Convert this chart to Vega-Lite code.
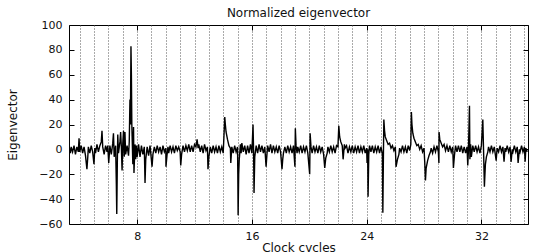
{
 "$schema": "https://vega.github.io/schema/vega-lite/v6.json",
 "width": 459,
 "height": 199,
 "autosize": {"type": "none"},
 "padding": {"left": 69, "top": 25, "right": 10, "bottom": 28},
 "background": "white",
 "title": {"text": "Normalized eigenvector", "font": "DejaVu Sans", "fontSize": 12, "fontWeight": "normal", "color": "#111", "offset": -1},
 "config": {
  "view": {"stroke": "#000", "strokeWidth": 1},
  "axis": {"labelFont": "DejaVu Sans", "labelFontSize": 11, "labelColor": "#111", "titleFont": "DejaVu Sans", "titleFontSize": 12, "titleFontWeight": "normal", "titleColor": "#111", "tickColor": "#000", "domain": false, "grid": false}
 },
 "data": {"values": [
  {"x":3.3,"y":1},{"x":3.35,"y":-3},{"x":3.4,"y":2},{"x":3.5,"y":-2},{"x":3.6,"y":3},{"x":3.7,"y":-4},{"x":3.8,"y":2},{"x":3.9,"y":-2},{"x":3.95,"y":9},{"x":4.0,"y":-2},
  {"x":4.1,"y":3},{"x":4.2,"y":-3},{"x":4.3,"y":2},{"x":4.4,"y":-5},{"x":4.5,"y":-16},{"x":4.56,"y":-6},{"x":4.6,"y":2},{"x":4.7,"y":-3},{"x":4.8,"y":3},{"x":4.9,"y":-2},{"x":4.99,"y":-12},
  {"x":5.05,"y":1},{"x":5.1,"y":-3},{"x":5.2,"y":4},{"x":5.3,"y":-2},{"x":5.4,"y":3},{"x":5.5,"y":6},{"x":5.55,"y":15},{"x":5.6,"y":2},{"x":5.7,"y":-4},{"x":5.8,"y":3},{"x":5.9,"y":-2},{"x":5.95,"y":3},
  {"x":6.02,"y":-11},{"x":6.1,"y":3},{"x":6.2,"y":-4},{"x":6.3,"y":5},{"x":6.35,"y":13},{"x":6.4,"y":-6},{"x":6.5,"y":3},{"x":6.55,"y":-28},{"x":6.58,"y":-52},{"x":6.62,"y":-10},{"x":6.65,"y":12},{"x":6.7,"y":-3},{"x":6.8,"y":6},{"x":6.85,"y":14},{"x":6.9,"y":2},{"x":6.95,"y":-17},
  {"x":7.0,"y":5},{"x":7.05,"y":15},{"x":7.1,"y":-6},{"x":7.15,"y":14},{"x":7.2,"y":-4},{"x":7.3,"y":3},{"x":7.4,"y":-5},{"x":7.45,"y":6},{"x":7.5,"y":40},{"x":7.53,"y":20},{"x":7.57,"y":83},{"x":7.6,"y":60},{"x":7.63,"y":20},{"x":7.7,"y":-12},{"x":7.75,"y":18},{"x":7.78,"y":-19},{"x":7.85,"y":4},{"x":7.9,"y":-8},{"x":7.95,"y":3},
  {"x":8.0,"y":-6},{"x":8.1,"y":4},{"x":8.2,"y":-6},{"x":8.3,"y":3},{"x":8.4,"y":-4},{"x":8.5,"y":2},{"x":8.55,"y":-27},{"x":8.6,"y":-8},{"x":8.7,"y":2},{"x":8.8,"y":-5},{"x":8.9,"y":3},{"x":8.95,"y":-3},
  {"x":9.04,"y":-14},{"x":9.1,"y":-4},{"x":9.2,"y":2},{"x":9.3,"y":-3},{"x":9.4,"y":3},{"x":9.5,"y":-2},{"x":9.6,"y":2},{"x":9.7,"y":-4},{"x":9.8,"y":3},{"x":9.9,"y":-2},{"x":10.0,"y":1},
  {"x":10.01,"y":-14},{"x":10.08,"y":-5},{"x":10.15,"y":2},{"x":10.2,"y":-3},{"x":10.3,"y":3},{"x":10.4,"y":-2},{"x":10.5,"y":2},{"x":10.6,"y":-3},{"x":10.7,"y":3},{"x":10.8,"y":-1},{"x":10.9,"y":2},{"x":11.0,"y":-2},
  {"x":11.04,"y":-13},{"x":11.1,"y":-4},{"x":11.2,"y":3},{"x":11.3,"y":-2},{"x":11.4,"y":3},{"x":11.5,"y":-1},{"x":11.6,"y":4},{"x":11.7,"y":-2},{"x":11.8,"y":3},{"x":11.9,"y":-2},{"x":12.0,"y":4},
  {"x":12.1,"y":2},{"x":12.18,"y":8},{"x":12.25,"y":1},{"x":12.3,"y":4},{"x":12.4,"y":-2},{"x":12.5,"y":3},{"x":12.6,"y":-3},{"x":12.7,"y":4},{"x":12.8,"y":-1},{"x":12.9,"y":2},{"x":12.94,"y":-16},
  {"x":13.0,"y":-6},{"x":13.1,"y":2},{"x":13.2,"y":-3},{"x":13.3,"y":3},{"x":13.4,"y":-2},{"x":13.5,"y":2},{"x":13.6,"y":-3},{"x":13.7,"y":3},{"x":13.8,"y":-2},{"x":13.9,"y":2},{"x":14.0,"y":-3},
  {"x":14.05,"y":10},{"x":14.11,"y":26},{"x":14.15,"y":20},{"x":14.2,"y":14},{"x":14.3,"y":8},{"x":14.4,"y":3},{"x":14.5,"y":1},{"x":14.53,"y":-11},{"x":14.6,"y":2},{"x":14.7,"y":-3},{"x":14.8,"y":3},{"x":14.9,"y":-2},{"x":15.0,"y":2},
  {"x":15.02,"y":-20},{"x":15.04,"y":-53},{"x":15.08,"y":-20},{"x":15.12,"y":-8},{"x":15.2,"y":4},{"x":15.25,"y":-3},{"x":15.3,"y":5},{"x":15.4,"y":-2},{"x":15.5,"y":3},{"x":15.6,"y":-4},{"x":15.7,"y":3},{"x":15.8,"y":-3},{"x":15.9,"y":4},{"x":16.0,"y":-3},
  {"x":16.08,"y":20},{"x":16.12,"y":-2},{"x":16.15,"y":-35},{"x":16.2,"y":-6},{"x":16.3,"y":3},{"x":16.4,"y":-3},{"x":16.5,"y":4},{"x":16.6,"y":-2},{"x":16.7,"y":3},{"x":16.8,"y":-3},{"x":16.9,"y":2},{"x":16.99,"y":-14},
  {"x":17.05,"y":-4},{"x":17.1,"y":3},{"x":17.2,"y":-2},{"x":17.3,"y":4},{"x":17.4,"y":-3},{"x":17.5,"y":3},{"x":17.6,"y":-2},{"x":17.7,"y":2},{"x":17.8,"y":-3},{"x":17.9,"y":3},{"x":18.0,"y":-2},
  {"x":18.1,"y":-16},{"x":18.15,"y":-8},{"x":18.2,"y":-3},{"x":18.3,"y":2},{"x":18.4,"y":-3},{"x":18.5,"y":3},{"x":18.6,"y":-2},{"x":18.7,"y":2},{"x":18.8,"y":-3},{"x":18.9,"y":3},{"x":19.0,"y":-14},
  {"x":19.03,"y":17},{"x":19.08,"y":3},{"x":19.15,"y":-3},{"x":19.2,"y":2},{"x":19.3,"y":-2},{"x":19.4,"y":3},{"x":19.5,"y":-3},{"x":19.6,"y":2},{"x":19.7,"y":-2},{"x":19.8,"y":3},{"x":19.9,"y":-3},
  {"x":20.03,"y":-20},{"x":20.06,"y":13},{"x":20.12,"y":2},{"x":20.2,"y":-3},{"x":20.3,"y":3},{"x":20.4,"y":-2},{"x":20.5,"y":2},{"x":20.6,"y":-3},{"x":20.7,"y":3},{"x":20.8,"y":-2},{"x":20.9,"y":2},{"x":21.0,"y":-4},
  {"x":21.08,"y":-15},{"x":21.15,"y":-7},{"x":21.25,"y":-3},{"x":21.3,"y":2},{"x":21.4,"y":-2},{"x":21.5,"y":3},{"x":21.6,"y":-2},{"x":21.7,"y":2},{"x":21.8,"y":-3},{"x":21.9,"y":3},{"x":22.0,"y":2},
  {"x":22.06,"y":19},{"x":22.12,"y":10},{"x":22.2,"y":6},{"x":22.3,"y":3},{"x":22.36,"y":-8},{"x":22.45,"y":4},{"x":22.5,"y":1},{"x":22.6,"y":3},{"x":22.7,"y":-3},{"x":22.8,"y":2},{"x":22.9,"y":-2},{"x":23.0,"y":3},
  {"x":23.1,"y":-3},{"x":23.2,"y":2},{"x":23.3,"y":-2},{"x":23.4,"y":3},{"x":23.5,"y":-3},{"x":23.6,"y":2},{"x":23.7,"y":-2},{"x":23.8,"y":3},{"x":23.9,"y":-3},{"x":24.0,"y":1},
  {"x":24.03,"y":-11},{"x":24.07,"y":0},{"x":24.1,"y":-38},{"x":24.15,"y":-4},{"x":24.2,"y":3},{"x":24.3,"y":-2},{"x":24.4,"y":3},{"x":24.5,"y":-3},{"x":24.6,"y":2},{"x":24.7,"y":-2},{"x":24.8,"y":3},{"x":24.9,"y":-3},{"x":25.0,"y":2},
  {"x":25.1,"y":-4},{"x":25.13,"y":-51},{"x":25.17,"y":-5},{"x":25.2,"y":24},{"x":25.25,"y":15},{"x":25.3,"y":10},{"x":25.4,"y":7},{"x":25.5,"y":4},{"x":25.6,"y":5},{"x":25.7,"y":1},{"x":25.8,"y":3},{"x":25.9,"y":-1},{"x":26.0,"y":2},
  {"x":26.05,"y":-14},{"x":26.15,"y":-8},{"x":26.25,"y":-4},{"x":26.3,"y":1},{"x":26.4,"y":-2},{"x":26.5,"y":3},{"x":26.6,"y":-2},{"x":26.7,"y":2},{"x":26.8,"y":-3},{"x":26.9,"y":3},{"x":27.0,"y":-1},
  {"x":27.08,"y":4},{"x":27.12,"y":30},{"x":27.16,"y":20},{"x":27.22,"y":13},{"x":27.3,"y":9},{"x":27.4,"y":6},{"x":27.5,"y":3},{"x":27.6,"y":4},{"x":27.7,"y":0},{"x":27.8,"y":3},{"x":27.9,"y":-2},{"x":28.0,"y":1},
  {"x":28.05,"y":-10},{"x":28.1,"y":-25},{"x":28.15,"y":-15},{"x":28.25,"y":-9},{"x":28.35,"y":-5},{"x":28.45,"y":-2},{"x":28.5,"y":1},{"x":28.6,"y":-3},{"x":28.7,"y":2},{"x":28.8,"y":-2},{"x":28.9,"y":3},{"x":29.0,"y":-2},
  {"x":29.04,"y":-11},{"x":29.05,"y":14},{"x":29.1,"y":8},{"x":29.2,"y":5},{"x":29.3,"y":2},{"x":29.4,"y":4},{"x":29.5,"y":-1},{"x":29.6,"y":3},{"x":29.7,"y":-2},{"x":29.8,"y":3},{"x":29.9,"y":-2},{"x":30.0,"y":2},
  {"x":30.05,"y":-15},{"x":30.12,"y":-5},{"x":30.2,"y":3},{"x":30.3,"y":-2},{"x":30.4,"y":3},{"x":30.5,"y":-2},{"x":30.6,"y":3},{"x":30.7,"y":-3},{"x":30.8,"y":2},{"x":30.9,"y":-3},{"x":31.0,"y":2},
  {"x":31.05,"y":-13},{"x":31.1,"y":0},{"x":31.17,"y":35},{"x":31.2,"y":-8},{"x":31.25,"y":4},{"x":31.3,"y":-6},{"x":31.4,"y":3},{"x":31.5,"y":-2},{"x":31.6,"y":3},{"x":31.7,"y":-2},{"x":31.8,"y":2},{"x":31.9,"y":-3},{"x":32.0,"y":3},
  {"x":32.1,"y":24},{"x":32.15,"y":0},{"x":32.21,"y":-30},{"x":32.28,"y":-12},{"x":32.35,"y":-6},{"x":32.45,"y":-2},{"x":32.5,"y":2},{"x":32.6,"y":-2},{"x":32.7,"y":3},{"x":32.8,"y":-2},{"x":32.9,"y":2},
  {"x":33.03,"y":-9},{"x":33.1,"y":1},{"x":33.2,"y":-2},{"x":33.3,"y":3},{"x":33.4,"y":-2},{"x":33.5,"y":2},{"x":33.58,"y":-10},{"x":33.65,"y":1},{"x":33.7,"y":-2},{"x":33.8,"y":3},{"x":33.9,"y":-2},{"x":34.0,"y":2},
  {"x":34.07,"y":-10},{"x":34.15,"y":0},{"x":34.2,"y":-2},{"x":34.3,"y":3},{"x":34.4,"y":-2},{"x":34.5,"y":2},{"x":34.56,"y":-11},{"x":34.65,"y":0},{"x":34.7,"y":-2},{"x":34.8,"y":3},{"x":34.9,"y":-2},{"x":35.0,"y":2},
  {"x":35.05,"y":-10},{"x":35.1,"y":1},{"x":35.2,"y":-2}
 ]},
 "layer": [
  {
   "mark": {"type": "line", "strokeOpacity": 0},
   "encoding": {
    "x": {"field": "x", "type": "quantitative", "scale": {"domain": [3.25, 35.25], "nice": false, "zero": false},
          "axis": {"orient": "bottom", "values": [4,5,6,7,8,9,10,11,12,13,14,15,16,17,18,19,20,21,22,23,24,25,26,27,28,29,30,31,32,33,34,35], "grid": true, "gridDash": [1, 2], "gridColor": "#555", "gridWidth": 1, "ticks": false, "labels": false, "title": null}},
    "y": {"field": "y", "type": "quantitative", "scale": {"domain": [-60, 100], "nice": false}, "axis": null}
   }
  },
  {
   "mark": {"type": "line", "strokeOpacity": 0},
   "encoding": {
    "x": {"field": "x", "type": "quantitative", "axis": {"orient": "top", "values": [8, 16, 24, 32], "labels": false, "tickSize": -5, "title": null}},
    "y": {"field": "y", "type": "quantitative", "axis": {"orient": "right", "values": [-60,-40,-20,0,20,40,60,80,100], "labels": false, "tickSize": -5, "title": null}}
   }
  },
  {
   "mark": {"type": "line", "color": "#000", "strokeWidth": 1.4},
   "encoding": {
    "x": {"field": "x", "type": "quantitative", "axis": {"orient": "bottom", "values": [8, 16, 24, 32], "tickSize": -5, "labelPadding": 11, "title": "Clock cycles", "titlePadding": 1}},
    "y": {"field": "y", "type": "quantitative", "axis": {"orient": "left", "values": [-60,-40,-20,0,20,40,60,80,100], "tickSize": -5, "labelPadding": 12, "title": "Eigenvector", "titlePadding": 19}}
   }
  }
 ],
 "resolve": {"axis": {"x": "independent", "y": "independent"}}
}
